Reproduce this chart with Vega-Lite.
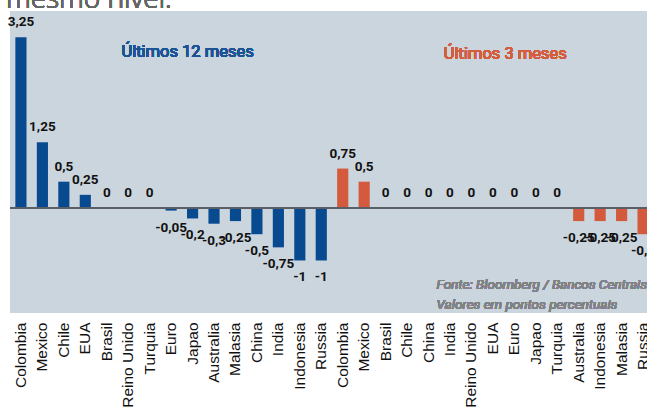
{
  "$schema": "https://vega.github.io/schema/vega-lite/v6.json",
  "autosize": "none",
  "padding": {"left": 10, "top": 11, "right": 0, "bottom": 94},
  "width": 644,
  "height": 302,
  "background": "#ffffff",
  "config": {
    "view": {"fill": "#cbd5de", "stroke": null}
  },
  "data": {
    "values": [
      {"key": "12|Colombia", "group": "12", "value": 3.25, "txt": "3,25"},
      {"key": "12|Mexico", "group": "12", "value": 1.25, "txt": "1,25"},
      {"key": "12|Chile", "group": "12", "value": 0.5, "txt": "0,5"},
      {"key": "12|EUA", "group": "12", "value": 0.25, "txt": "0,25"},
      {"key": "12|Brasil", "group": "12", "value": 0, "txt": "0"},
      {"key": "12|Reino Unido", "group": "12", "value": 0, "txt": "0"},
      {"key": "12|Turquia", "group": "12", "value": 0, "txt": "0"},
      {"key": "12|Euro", "group": "12", "value": -0.05, "txt": "-0,05"},
      {"key": "12|Japao", "group": "12", "value": -0.2, "txt": "-0,2"},
      {"key": "12|Australia", "group": "12", "value": -0.3, "txt": "-0,3"},
      {"key": "12|Malasia", "group": "12", "value": -0.25, "txt": "-0,25"},
      {"key": "12|China", "group": "12", "value": -0.5, "txt": "-0,5"},
      {"key": "12|India", "group": "12", "value": -0.75, "txt": "-0,75"},
      {"key": "12|Indonesia", "group": "12", "value": -1, "txt": "-1"},
      {"key": "12|Russia", "group": "12", "value": -1, "txt": "-1"},
      {"key": "gap|", "group": "gap", "value": null, "txt": ""},
      {"key": "3|Colombia", "group": "3", "value": 0.75, "txt": "0,75"},
      {"key": "3|Mexico", "group": "3", "value": 0.5, "txt": "0,5"},
      {"key": "3|Brasil", "group": "3", "value": 0, "txt": "0"},
      {"key": "3|Chile", "group": "3", "value": 0, "txt": "0"},
      {"key": "3|China", "group": "3", "value": 0, "txt": "0"},
      {"key": "3|India", "group": "3", "value": 0, "txt": "0"},
      {"key": "3|Reino Unido", "group": "3", "value": 0, "txt": "0"},
      {"key": "3|EUA", "group": "3", "value": 0, "txt": "0"},
      {"key": "3|Euro", "group": "3", "value": 0, "txt": "0"},
      {"key": "3|Japao", "group": "3", "value": 0, "txt": "0"},
      {"key": "3|Turquia", "group": "3", "value": 0, "txt": "0"},
      {"key": "3|Australia", "group": "3", "value": -0.25, "txt": "-0,25"},
      {"key": "3|Indonesia", "group": "3", "value": -0.25, "txt": "-0,25"},
      {"key": "3|Malasia", "group": "3", "value": -0.25, "txt": "-0,25"},
      {"key": "3|Russia", "group": "3", "value": -0.5, "txt": "-0,5"}
    ]
  },
  "encoding": {
    "x": {
      "field": "key",
      "type": "nominal",
      "sort": null,
      "scale": {"paddingInner": 0.48, "paddingOuter": 0.25},
      "axis": {
        "title": null,
        "domain": false,
        "ticks": false,
        "labelAngle": -90,
        "labelAlign": "right",
        "labelBaseline": "middle",
        "labelPadding": 9,
        "labelFont": "Liberation Sans",
        "labelFontSize": 15.5,
        "labelColor": "#111111",
        "labelOverlap": false,
        "labelBound": false,
        "labelFlush": false,
        "labelExpr": "split(datum.value, '|')[1]"
      }
    },
    "y": {
      "field": "value",
      "type": "quantitative",
      "scale": {"domain": [-2, 3.75], "nice": false, "zero": false},
      "axis": null
    }
  },
  "layer": [
    {
      "mark": {"type": "bar"},
      "encoding": {
        "color": {
          "field": "group",
          "type": "nominal",
          "scale": {"domain": ["12", "3"], "range": ["#084a90", "#d35a3c"]},
          "legend": null
        }
      }
    },
    {
      "mark": {"type": "rule", "color": "#5a5f66", "strokeWidth": 1.5},
      "encoding": {"y": {"datum": 0}, "x": null}
    },
    {
      "transform": [{"filter": "isValid(datum.value) && datum.value >= 0"}],
      "mark": {"type": "text", "baseline": "alphabetic", "dy": -11, "font": "Roboto", "fontWeight": "bold", "fontSize": 13.5, "color": "#111111"},
      "encoding": {"text": {"field": "txt"}}
    },
    {
      "transform": [{"filter": "isValid(datum.value) && datum.value < 0"}],
      "mark": {"type": "text", "baseline": "top", "dy": 10, "font": "Roboto", "fontWeight": "bold", "fontSize": 13.5, "color": "#111111"},
      "encoding": {"text": {"field": "txt"}}
    },
    {
      "mark": {"type": "text", "align": "center", "baseline": "alphabetic", "dx": -5, "font": "Roboto", "fontSize": 16.5, "color": "#1d5496"},
      "encoding": {"x": {"datum": "12|Japao"}, "y": {"datum": 2.87}, "text": {"value": "Últimos 12 meses"}}
    },
    {
      "mark": {"type": "text", "align": "center", "baseline": "alphabetic", "dx": -9, "font": "Roboto", "fontSize": 16.5, "color": "#d65e3e"},
      "encoding": {"x": {"datum": "3|Euro"}, "y": {"datum": 2.83}, "text": {"value": "Últimos 3 meses"}}
    },
    {
      "mark": {"type": "text", "align": "left", "baseline": "alphabetic", "dx": 8, "font": "Roboto", "fontStyle": "italic", "fontSize": 13.5, "color": "#808286", "lineHeight": 20},
      "encoding": {"x": {"datum": "3|China"}, "y": {"datum": -1.54}, "text": {"value": ["Fonte: Bloomberg / Bancos Centrais", "Valores em pontos percentuais"]}}
    },
    {
      "mark": {"type": "text", "align": "left", "baseline": "alphabetic", "dx": -15, "font": "Open Sans", "fontWeight": 300, "fontSize": 28, "color": "#666666"},
      "encoding": {"x": {"datum": "12|Colombia"}, "y": {"datum": 3.807}, "text": {"value": "mesmo nível."}}
    }
  ]
}
